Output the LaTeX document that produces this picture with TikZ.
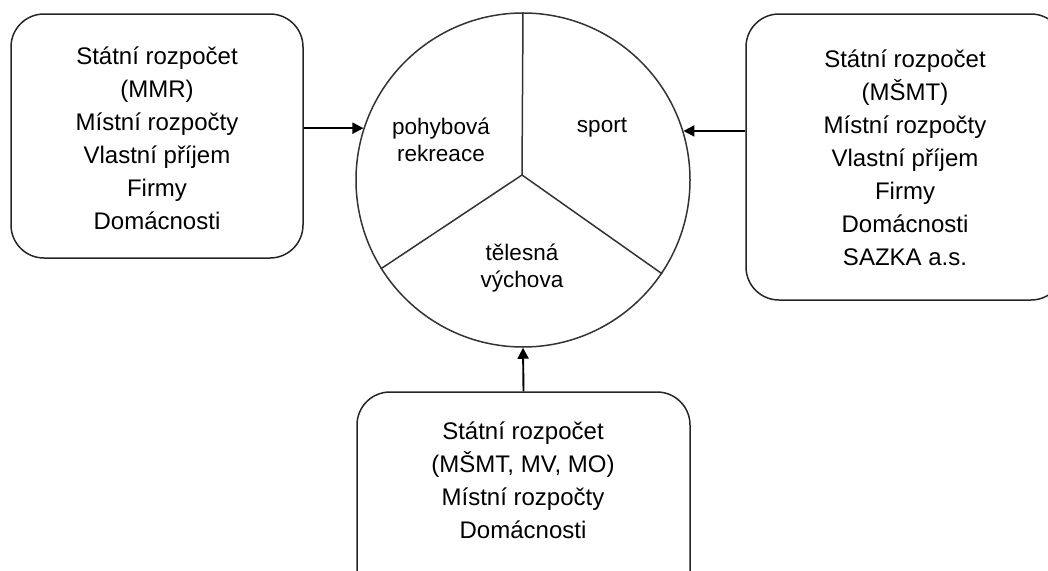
\documentclass[tikz,border=0pt]{standalone}
\usepackage{fontspec}
\setmainfont{Liberation Sans}
\usetikzlibrary{arrows.meta}
\begin{document}
\begin{tikzpicture}[x=1pt,y=-1pt,
  fbox/.style={draw=black!85, line width=1.5pt, rounded corners=33pt, rectangle, inner sep=0pt},
  btxt/.style={align=center, font=\fontsize{24}{33}\selectfont},
  ctxt/.style={align=center, font=\fontsize{22.5}{27}\selectfont},
  arr/.style={line width=1.9pt, black, -{Triangle[length=11pt,width=11pt]}},
  spoke/.style={draw=black!80, line width=1.5pt}]
\useasboundingbox (0,0) rectangle (1048,570);
% circle
\node[draw=black!80, line width=1.5pt, circle, minimum size=334pt, inner sep=0pt] (pie) at (523,180) {};
\coordinate (hub) at (522,175);
\draw[spoke] (hub) -- (pie.90);
\draw[spoke] (hub) -- (pie.212);
\draw[spoke] (hub) -- (pie.326);
\node[ctxt] (t1) at (441,140) {pohybová\\rekreace};
\node[ctxt] (t2) at (602,128) {sport};
\node[ctxt] (t3) at (522,268) {tělesná\\výchova};
% boxes
\node[fbox, minimum width=292pt, minimum height=244pt] (lbox) at (157,136) {};
\node[btxt] (ltext) at (157,138) {Státní rozpočet\\(MMR)\\Místní rozpočty\\Vlastní příjem\\Firmy\\Domácnosti};
\node[fbox, minimum width=318pt, minimum height=286pt] (rbox) at (905,157) {};
\node[btxt] (rtext) at (905,158) {Státní rozpočet\\(MŠMT)\\Místní rozpočty\\Vlastní příjem\\Firmy\\Domácnosti\\SAZKA a.s.};
\node[fbox, minimum width=333pt, minimum height=230pt] (bbox) at (523.5,507) {};
\node[btxt] (btext) at (523,480) {Státní rozpočet\\(MŠMT, MV, MO)\\Místní rozpočty\\Domácnosti};
% arrows
\draw[arr] (lbox.east |- pie.162) -- (pie.162);
\draw[arr] (rbox.west |- pie.17) -- (pie.17);
\draw[arr] (bbox.north) -- (pie.south);
\end{tikzpicture}
\end{document}
